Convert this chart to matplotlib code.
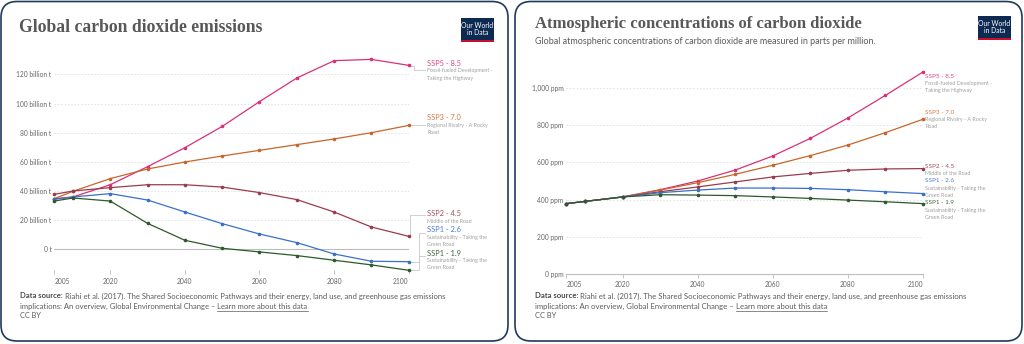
import matplotlib
matplotlib.use("Agg")
import matplotlib.pyplot as plt
from matplotlib.patches import FancyBboxPatch, Rectangle

# --- data ---
YEARS = [2005, 2010, 2020, 2030, 2040, 2050, 2060, 2070, 2080, 2090, 2100]

SCENARIOS = ["SSP5 - 8.5", "SSP3 - 7.0", "SSP2 - 4.5", "SSP1 - 2.6", "SSP1 - 1.9"]
SUBTITLES = [
    "Fossil-fueled Development -\nTaking the Highway",
    "Regional Rivalry - A Rocky\nRoad",
    "Middle of the Road",
    "Sustainability - Taking the\nGreen Road",
    "Sustainability - Taking the\nGreen Road",
]

# billion tonnes CO2 per year
EMIS_SSP5 = [34.7, 35.9, 44.3, 56.7, 69.7, 84.3, 101.3, 117.5, 129.4, 130.3, 126.2]
EMIS_SSP3 = [34.7, 39.8, 48.5, 55.1, 59.9, 64.0, 67.9, 71.8, 75.7, 80.0, 85.0]
EMIS_SSP2 = [37.7, 40.0, 42.3, 44.3, 44.3, 42.7, 38.9, 34.1, 25.6, 15.3, 8.9]
EMIS_SSP126 = [34.3, 35.9, 38.2, 33.8, 25.6, 17.6, 10.5, 4.6, -3.2, -8.2, -8.5]
EMIS_SSP119 = [33.1, 35.2, 33.1, 17.8, 6.2, 0.7, -1.8, -4.3, -7.5, -10.7, -14.4]

# ppm
CONC_SSP5 = [378, 390, 414, 453, 500, 559, 635, 730, 840, 962, 1088]
CONC_SSP3 = [378, 390, 414, 451, 491, 536, 585, 637, 694, 761, 833]
CONC_SSP2 = [378, 390, 414, 442, 468, 495, 522, 541, 558, 565, 567]
CONC_SSP126 = [378, 390, 414, 437, 451, 462, 462, 460, 453, 442, 432]
CONC_SSP119 = [378, 390, 414, 426, 424, 421, 414, 406, 397, 388, 378]

EMIS_TICKS = [0, 20, 40, 60, 80, 100, 120]
EMIS_TICK_LABELS = ["0 t", "20 billion t", "40 billion t", "60 billion t",
                    "80 billion t", "100 billion t", "120 billion t"]
CONC_TICKS = [0, 200, 400, 600, 800, 1000]
CONC_TICK_LABELS = ["0 ppm", "200 ppm", "400 ppm", "600 ppm", "800 ppm", "1,000 ppm"]
X_TICKS = [2005, 2020, 2040, 2060, 2080, 2100]

# --- style ---
LINE_COLORS = ["#d93079", "#c5672b", "#9b3b4b", "#3a70c8", "#2d5a2a"]
LABEL_COLORS = ["#e0448a", "#cf7a44", "#a4505e", "#4d80d0", "#3e6a3a"]
FONT = "Lato"
GRAY = "#666666"
TICK_FS = 4.8

W, H = 1024, 344
fig = plt.figure(figsize=(W / 100, H / 100), dpi=100)

# pixel-space overlay for panels, titles, labels, footers
bg = fig.add_axes([0, 0, 1, 1], zorder=0)
bg.set_xlim(0, W)
bg.set_ylim(H, 0)
bg.axis("off")


def px_axes(x0, x1, y0, y1, zorder=1):
    return fig.add_axes([x0 / W, 1 - y1 / H, (x1 - x0) / W, (y1 - y0) / H], zorder=zorder)


def text_width(t):
    r = fig.canvas.get_renderer()
    return t.get_window_extent(r).width


def panel(x0, x1, y0, y1):
    bg.add_patch(FancyBboxPatch((x0, y0), x1 - x0, y1 - y0,
                                boxstyle="round,pad=0,rounding_size=16",
                                fc="white", ec="#203a5c", lw=1.2))


def logo(x0, y0):
    bg.add_patch(Rectangle((x0, y0), 33, 22, fc="#0d2a52", ec="none"))
    bg.add_patch(Rectangle((x0, y0 + 22), 33, 2, fc="#c8102e", ec="none"))
    bg.text(x0 + 16.5, y0 + 11, "Our World\nin Data", color="white", fontsize=4.9,
            family=FONT, ha="center", va="center", linespacing=1.0)


def footer(x, y, fs):
    t = bg.text(x, y, "Data source:", family=FONT, weight="bold", fontsize=fs,
                color="#4a4a4a", va="center")
    bg.text(x + text_width(t) + 2, y,
            "Riahi et al. (2017). The Shared Socioeconomic Pathways and their energy, "
            "land use, and greenhouse gas emissions",
            family=FONT, fontsize=fs, color="#5b5b5b", va="center")
    t2 = bg.text(x, y + 10.5, "implications: An overview, Global Environmental Change \u2013 ",
                 family=FONT, fontsize=fs, color="#5b5b5b", va="center")
    lx = x + text_width(t2)
    t3 = bg.text(lx, y + 10.5, "Learn more about this data", family=FONT, fontsize=fs,
                 color="#5b5b5b", va="center")
    bg.plot([lx, lx + text_width(t3)], [y + 14.5, y + 14.5], color="#5b5b5b", lw=0.5)
    bg.text(x, y + 19.5, "CC BY", family=FONT, fontsize=fs - 0.2, color="#5b5b5b", va="center")


def style_axes(ax):
    ax.set_xlim(2005, 2100)
    ax.set_xticks(X_TICKS)
    ax.set_xticklabels([str(v) for v in X_TICKS])
    labels = ax.get_xticklabels()
    labels[0].set_ha("left")
    labels[-1].set_ha("right")
    for lab in labels:
        lab.set_family(FONT)
    ax.tick_params(axis="x", length=3, width=0.6, color="#bbbbbb", labelsize=TICK_FS,
                   labelcolor=GRAY, pad=2.5)
    ax.tick_params(axis="y", length=0, labelsize=TICK_FS, labelcolor=GRAY, pad=2)
    for lab in ax.get_yticklabels():
        lab.set_family(FONT)
    for s in ax.spines.values():
        s.set_visible(False)
    ax.patch.set_alpha(0)


def draw_series(ax, series):
    for vals, c in zip(series, LINE_COLORS):
        ax.plot(YEARS, vals, color=c, lw=0.9, marker="o", ms=1.6, mec=c, mfc=c,
                clip_on=False, zorder=3)


def labels(x, name_ys, fs_name, fs_sub, step):
    for name, sub, c, y in zip(SCENARIOS, SUBTITLES, LABEL_COLORS, name_ys):
        bg.text(x, y, name, family=FONT, fontsize=fs_name, color=c, va="center")
        for k, line in enumerate(sub.split("\n")):
            bg.text(x, y + step * (k + 1), line, family=FONT, fontsize=fs_sub,
                    color="#a0a0a0", va="center")


# --- left panel: emissions ---
panel(1, 508, 1.5, 341)
bg.text(19, 27, "Global carbon dioxide emissions", family="Liberation Serif",
        weight="bold", fontsize=12.7, color="#585858", va="center")
logo(461, 18)

axL = px_axes(54.3, 408.7, 55, 270)
axL.set_ylim(-14.2, 133.3)
for v in EMIS_TICKS:
    if v == 0:
        axL.axhline(v, color="#bdbdbd", lw=0.8, zorder=1)
    else:
        axL.axhline(v, color="#e0e0e0", lw=0.6, ls=(0, (2, 2)), zorder=1)
axL.set_yticks(EMIS_TICKS)
axL.set_yticklabels(EMIS_TICK_LABELS)
style_axes(axL)
draw_series(axL, [EMIS_SSP5, EMIS_SSP3, EMIS_SSP2, EMIS_SSP126, EMIS_SSP119])

labels(427, [63.5, 118, 214, 230, 253], fs_name=5.4, fs_sub=3.8, step=7.3)
# elbow connectors: (end y, elbow x, target y)
left_conn = [(66, 414, 70), (125.4, 414, 125.4), (236.3, 410, 215),
             (261.7, 419, 233), (270.3, 419, 256)]
for ye, xe, yt in left_conn:
    bg.plot([410, xe, xe, 425], [ye, ye, yt, yt], color="#c8c8c8", lw=0.6, zorder=2)

footer(20, 296, fs=5.53)

# --- right panel: concentrations ---
panel(515, 1022, 1.5, 341)
bg.text(535, 24, "Atmospheric concentrations of carbon dioxide", family="Liberation Serif",
        weight="bold", fontsize=12.0, color="#585858", va="center")
bg.text(535, 41, "Global atmospheric concentrations of carbon dioxide are measured in "
        "parts per million.", family=FONT, fontsize=6.45, color="#5b5b5b", va="center")
logo(978, 16)

axR = px_axes(566.3, 923, 55, 273.7)
axR.set_ylim(0, 1179.6)
for v in CONC_TICKS[1:]:
    axR.axhline(v, color="#e0e0e0", lw=0.6, ls=(0, (2, 2)), zorder=1)
axR.set_yticks(CONC_TICKS)
axR.set_yticklabels(CONC_TICK_LABELS)
style_axes(axR)
axR.spines["bottom"].set_visible(True)
axR.spines["bottom"].set_color("#bdbdbd")
axR.spines["bottom"].set_linewidth(0.8)
draw_series(axR, [CONC_SSP5, CONC_SSP3, CONC_SSP2, CONC_SSP126, CONC_SSP119])

labels(925, [76, 112, 166, 181, 203], fs_name=4.6, fs_sub=3.9, step=7.4)

footer(535, 296, fs=5.59)

fig.savefig("out.png", dpi=100)
